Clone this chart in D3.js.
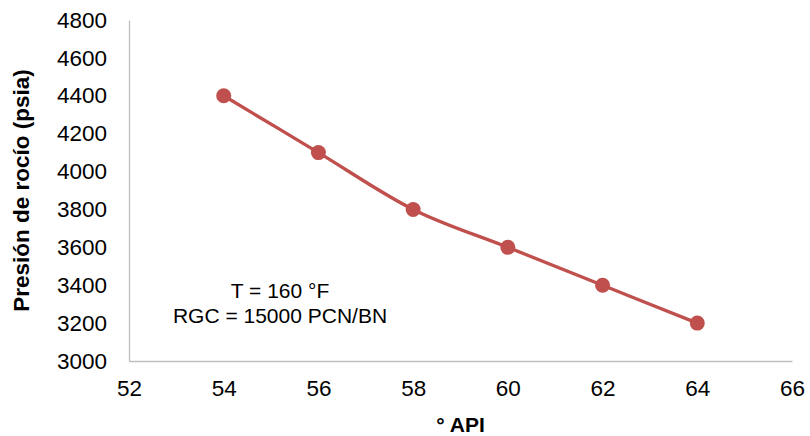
<!DOCTYPE html>
<html><head><meta charset="utf-8">
<script src="https://cdn.jsdelivr.net/npm/d3@7"></script>
<style>body{margin:0;background:#fff}svg{display:block}text{font-family:"Liberation Sans",Arial,sans-serif;fill:#000}</style>
</head><body>
<svg id="c" width="810" height="436"></svg>
<script>
const api = [54, 56, 58, 60, 62, 64];
const presion = [4400, 4100, 3800, 3600, 3400, 3200];
const xTicks = [52, 54, 56, 58, 60, 62, 64, 66];
const yTicks = [3000, 3200, 3400, 3600, 3800, 4000, 4200, 4400, 4600, 4800];
const annotation = ["T = 160 °F", "RGC = 15000 PCN/BN"];

const svg = d3.select("#c");
const x = d3.scaleLinear().domain([52, 66]).range([129, 792]);
const y = d3.scaleLinear().domain([3000, 4800]).range([361, 20]);

const xAxis = d3.axisBottom(x).tickValues(xTicks).tickSize(0).tickPadding(19).tickFormat(d3.format("d"));
const yAxis = d3.axisLeft(y).tickValues(yTicks).tickSize(0).tickPadding(22).tickFormat(d3.format("d"));

const gx = svg.append("g").attr("transform", `translate(0,${y(3000)})`).call(xAxis);
const gy = svg.append("g").attr("transform", `translate(${x(52)},0)`).call(yAxis);
[gx, gy].forEach(g => {
  g.attr("font-size", null).attr("font-family", null);
  g.select(".domain").attr("stroke", "#BFBFBF").attr("stroke-width", 1.3);
  g.selectAll("text").style("font-size", "22.5px").attr("fill", "#000");
});

const line = d3.line().x((d, i) => x(api[i])).y(d => y(d)).curve(d3.curveCatmullRom.alpha(0));
svg.append("path").datum(presion).attr("d", line).attr("fill", "none")
  .attr("stroke", "#C0504D").attr("stroke-width", 3.3);
svg.selectAll("circle.pt").data(presion).enter().append("circle")
  .attr("cx", (d, i) => x(api[i])).attr("cy", d => y(d)).attr("r", 7.5)
  .attr("fill", "#C0504D");

svg.append("text").attr("x", x(59)).attr("y", 432).attr("text-anchor", "middle")
  .style("font-size", "21px").style("font-weight", "bold").text("° API");
svg.append("text").attr("transform", `translate(29,${y(3900)}) rotate(-90)`).attr("text-anchor", "middle")
  .style("font-size", "22.5px").style("font-weight", "bold").text("Presión de rocío (psia)");

svg.selectAll("text.ann").data(annotation).enter().append("text")
  .attr("x", 280).attr("y", (d, i) => 298 + i * 25).attr("text-anchor", "middle")
  .style("font-size", "21px").text(d => d);
</script>
</body></html>
